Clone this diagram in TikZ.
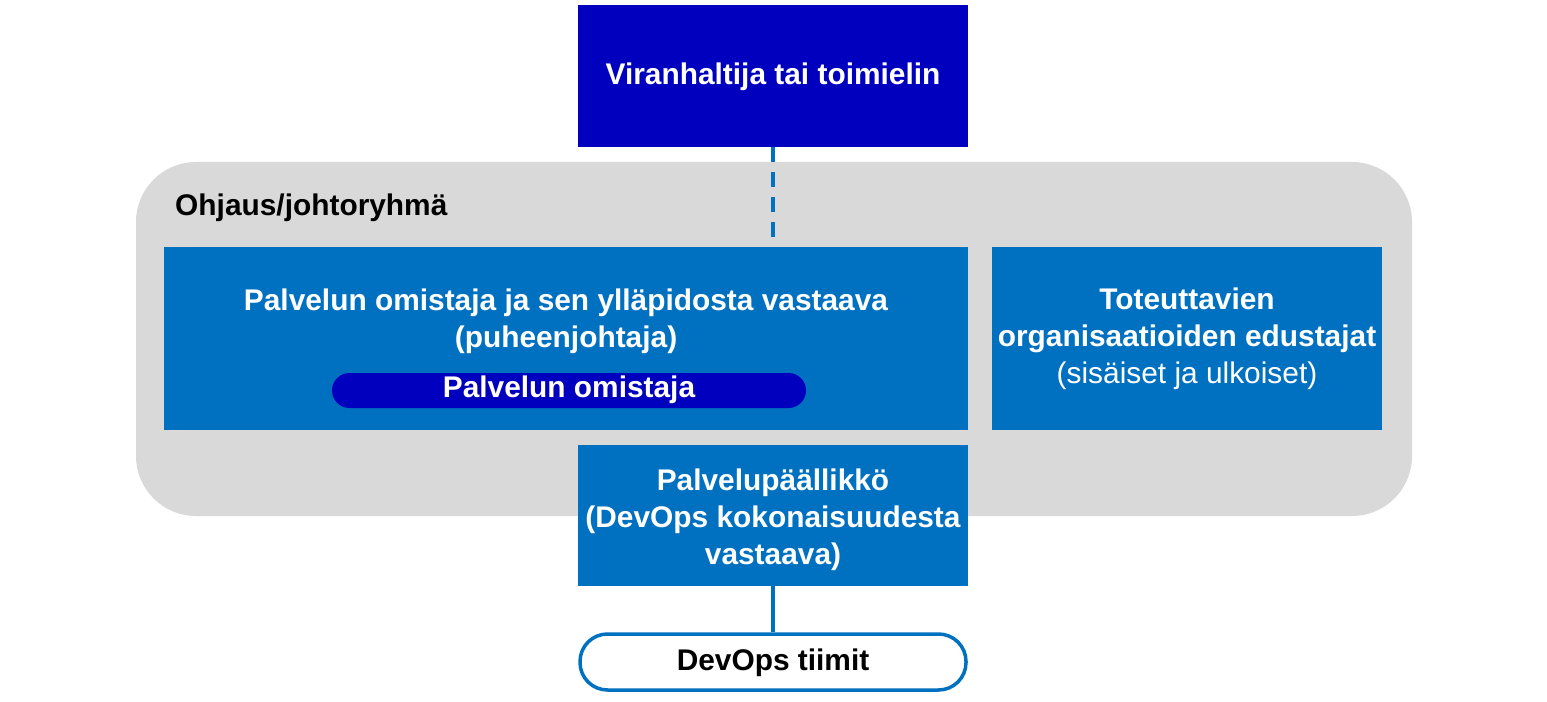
\documentclass[tikz,border=0pt]{standalone}
\usepackage{fontspec}
\setmainfont{Liberation Sans}
\definecolor{darkblue}{RGB}{0,0,190}
\definecolor{midblue}{RGB}{0,112,192}
\definecolor{panelgray}{RGB}{217,217,217}
\tikzset{
  boxtext/.style={text=white, font=\fontsize{17}{21}\selectfont\bfseries, align=center},
  bluebox/.style={fill=midblue, boxtext},
}
\begin{document}
\begin{tikzpicture}[x=0.02cm, y=-0.02cm]
  \useasboundingbox (0, 0) rectangle (1547, 702);

  % ohjausryhma
  \fill[panelgray, rounded corners=1.2cm] (136, 162) rectangle (1412, 516);
  \node[anchor=west, font=\fontsize{17}{21}\selectfont\bfseries] (ohjaus) at (169, 208) {Ohjaus/johtoryhmä};

  \fill[darkblue] (578, 5) rectangle (968, 147);
  \node[boxtext] (viranhaltija) at (773, 77) {Viranhaltija tai toimielin};

  \fill[midblue] (164, 247) rectangle (968, 430);
  \node[boxtext] (omistajat) at (566, 321) {Palvelun omistaja ja sen ylläpidosta vastaava\\(puheenjohtaja)};
  \fill[darkblue, rounded corners=0.35cm] (332, 373) rectangle (806, 408);
  \node[boxtext] (omistaja) at (569, 390) {Palvelun omistaja};

  \fill[midblue] (992, 247) rectangle (1382, 430);
  \node[boxtext] (toteuttavat) at (1187, 339) {Toteuttavien\\organisaatioiden edustajat\\\mdseries(sisäiset ja ulkoiset)};

  \fill[midblue] (578, 445) rectangle (968, 586);
  \node[boxtext] (paallikko) at (773, 520) {Palvelupäällikkö\\(DevOps kokonaisuudesta\\vastaava)};

  \draw[midblue, line width=0.7mm, rounded corners=0.55cm, fill=white] (580, 634) rectangle (966, 690);
  \node[font=\fontsize{17}{21}\selectfont\bfseries] (tiimit) at (773, 663) {DevOps tiimit};

  \draw[midblue, line width=0.8mm, dash pattern=on 3mm off 2mm] (773, 147) -- (773, 247);
  \draw[midblue, line width=0.8mm] (773, 586) -- (773, 632);
\end{tikzpicture}
\end{document}
